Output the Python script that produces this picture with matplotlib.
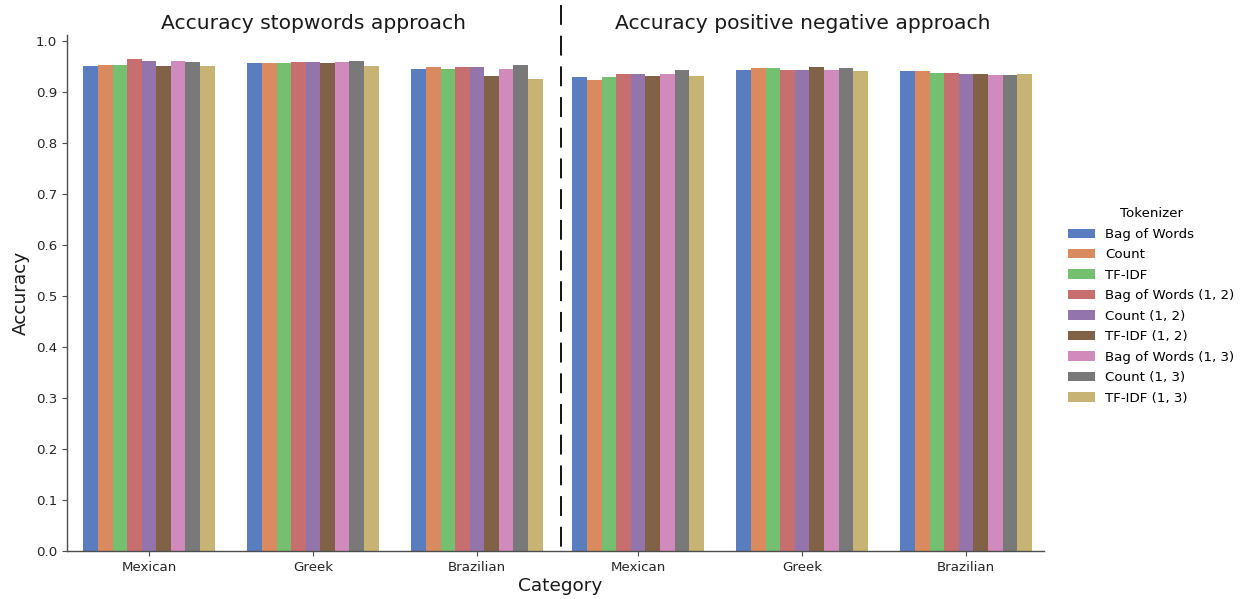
import numpy as np
import matplotlib
matplotlib.use("Agg")
import matplotlib.pyplot as plt
import seaborn as sns

categories = ["Mexican", "Greek", "Brazilian"]
tokenizers = ["Bag of Words", "Count", "TF-IDF",
              "Bag of Words (1, 2)", "Count (1, 2)", "TF-IDF (1, 2)",
              "Bag of Words (1, 3)", "Count (1, 3)", "TF-IDF (1, 3)"]

# accuracy, one row per category, one column per tokenizer
acc_stopwords = [
    [0.951, 0.953, 0.953, 0.964, 0.961, 0.951, 0.961, 0.958, 0.951],  # Mexican
    [0.956, 0.956, 0.956, 0.958, 0.958, 0.956, 0.958, 0.961, 0.951],  # Greek
    [0.945, 0.948, 0.945, 0.948, 0.948, 0.930, 0.945, 0.953, 0.924],  # Brazilian
]
acc_posneg = [
    [0.928, 0.922, 0.928, 0.935, 0.935, 0.930, 0.935, 0.943, 0.930],
    [0.943, 0.946, 0.946, 0.943, 0.943, 0.949, 0.943, 0.946, 0.941],
    [0.941, 0.941, 0.937, 0.937, 0.935, 0.935, 0.932, 0.932, 0.935],
]
titles = ["Accuracy stopwords approach", "Accuracy positive negative approach"]

colors = sns.color_palette("muted", 9, desat=0.75)
gray = "0.3"

W, H = 1247, 599
fig = plt.figure(figsize=(W / 100, H / 100), dpi=100)

ax1 = fig.add_axes([67 / W, 1 - 551 / H, (560 - 67) / W, (551 - 34.7) / H])
ax2 = fig.add_axes([561 / W, 1 - 551 / H, (1044 - 561) / W, (551 - 34.7) / H])

n = len(tokenizers)
bw = 0.8 / n
x = np.arange(len(categories))

for ax, data, title in [(ax1, acc_stopwords, titles[0]), (ax2, acc_posneg, titles[1])]:
    data = np.array(data)
    for j in range(n):
        ax.bar(x - 0.4 + bw * (j + 0.5), data[:, j], width=bw,
               color=colors[j], label=tokenizers[j])
    ax.set_ylim(0, 1.0117)
    ax.set_xticks(x)
    ax.set_xticklabels(categories, fontsize=9.6, color=".15")
    for s in ["top", "right"]:
        ax.spines[s].set_visible(False)
    for s in ["left", "bottom"]:
        ax.spines[s].set_color(gray)
        ax.spines[s].set_linewidth(1.0)
    ax.tick_params(colors=gray, labelcolor=".15", labelsize=9.6)
    ax.set_title(title, fontsize=14.6, color=".1", pad=4)

ax1.set_xlim(-0.5, 2.506)
ax2.set_xlim(-0.47, 2.475)
ax1.set_yticks(np.arange(0, 1.01, 0.1))
ax1.set_yticklabels([f"{v:.1f}" for v in np.arange(0, 1.01, 0.1)])
ax1.set_ylabel("Accuracy", fontsize=13.3, color=".1")
ax2.spines["left"].set_visible(False)
ax2.set_yticks([])

fig.text(560 / W, 1 - 586 / H, "Category", fontsize=13.3, color=".1",
         ha="center", va="center")

# separator between the two approaches
fig.add_artist(plt.Line2D([561 / W, 561 / W], [1 - 5 / H, 1 - 551 / H],
                          transform=fig.transFigure, color="k", lw=1.3,
                          dashes=(11, 6)))

handles, labels = ax1.get_legend_handles_labels()
leg = fig.legend(handles, labels, title="Tokenizer", loc="center left",
                 bbox_to_anchor=(1056 / W, 1 - 306 / H), frameon=False,
                 fontsize=9.6, title_fontsize=9.6, labelspacing=0.56)

fig.savefig("out.png", dpi=100)
